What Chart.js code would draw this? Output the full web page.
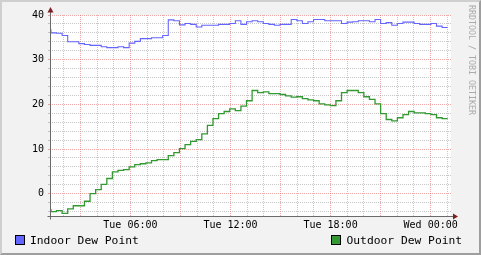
<!DOCTYPE html>
<html><head><meta charset="utf-8">
<script src="https://cdn.jsdelivr.net/npm/chart.js@4"></script>
<style>
html,body{margin:0;padding:0;background:#f2f2f2;}
#wrap{position:relative;width:481px;height:255px;overflow:hidden;background:#f2f2f2;}
#frame{position:absolute;left:0;top:0;width:481px;height:255px;box-sizing:border-box;border-top:2px solid #cfcfcf;border-left:2px solid #cfcfcf;border-right:2px solid #9e9e9e;border-bottom:2px solid #9e9e9e;pointer-events:none;}
canvas{position:absolute;left:0;top:0;}
.lg{position:absolute;font-family:"DejaVu Sans Mono",monospace;font-size:11.3px;line-height:12px;color:#000;white-space:nowrap;}
.box{position:absolute;width:8px;height:8px;border:1px solid #000;}
#wm{position:absolute;left:467px;top:5px;writing-mode:vertical-rl;font-family:"DejaVu Sans Mono",monospace;font-size:8.3px;line-height:10px;color:#aaa;white-space:nowrap;}
</style></head>
<body>
<div id="wrap">
<canvas id="c" width="481" height="255"></canvas>
<div class="box" style="left:15px;top:235px;background:#6464ff;"></div>
<div class="lg" style="left:30px;top:234.5px;">Indoor Dew Point</div>
<div class="box" style="left:331px;top:235px;background:#339933;"></div>
<div class="lg" style="left:346.5px;top:234.5px;">Outdoor Dew Point</div>
<div id="wm">RRDTOOL / TOBI OETIKER</div>
<div id="frame"></div>
</div>
<script>
// time of the first sample (hours after Tue 00:00) and sample spacing (hours)
const startHour = 0.901;
const stepHours = 0.335;

const seriesNames = ['Indoor Dew Point', 'Outdoor Dew Point'];

const indoor = [
 36.7, 36.0, 35.9, 35.4, 34.0, 34.0, 33.6, 33.4, 33.2, 33.2,
 32.9, 32.7, 32.7, 32.9, 32.7, 33.7, 34.1, 34.7, 34.7, 34.9,
 34.9, 35.4, 38.9, 38.7, 37.8, 38.1, 37.9, 37.3, 37.7, 37.7,
 37.7, 37.9, 37.9, 38.1, 38.7, 37.9, 38.5, 38.7, 38.5, 38.1,
 37.9, 37.7, 37.9, 37.9, 39.0, 38.7, 38.1, 38.5, 39.0, 39.0,
 38.7, 38.7, 38.7, 38.1, 38.4, 38.5, 38.7, 38.7, 38.5, 39.0,
 38.1, 38.3, 37.7, 38.1, 38.4, 38.4, 38.1, 37.9, 37.9, 38.1,
 37.5, 37.2
];

const outdoor = [
 -3.6, -4.0, -3.8, -4.4, -3.4, -2.7, -2.7, -1.7, 0.0, 0.9,
 2.1, 3.4, 4.9, 5.2, 5.4, 6.0, 6.5, 6.7, 6.9, 7.4,
 7.6, 7.6, 8.5, 9.2, 10.1, 11.0, 11.7, 12.1, 13.4, 15.3,
 16.8, 17.9, 18.4, 19.0, 18.6, 19.6, 20.8, 23.1, 22.6, 22.8,
 22.4, 22.4, 22.2, 21.9, 21.6, 21.7, 21.3, 21.0, 20.8, 20.1,
 19.9, 19.7, 20.8, 22.6, 23.1, 23.1, 22.6, 21.7, 21.1, 20.1,
 17.9, 16.6, 16.3, 17.0, 17.7, 18.4, 18.1, 18.1, 17.9, 17.7,
 17.0, 16.8
];

const yTickValues = [-4,-2,0,2,4,6,8,10,12,14,16,18,20,22,24,26,28,30,32,34,36,38,40];
const xGridHours = [2,3,4,5,6,7,8,9,10,11,12,13,14,15,16,17,18,19,20,21,22,23,24,25];
const xLabelHours = [6,12,18,24];
const xLabelTexts = ['Tue 06:00','Tue 12:00','Tue 18:00','Wed 00:00'];

const FONT = 'DejaVu Sans Mono';
const MINOR = 'rgba(143,143,143,0.5)';
const MAJOR = 'rgba(222,79,79,0.5)';
const AXIS = '#6a6a6a';
const ARROW = '#801f1f';

function isMajorY(v){ return Math.abs(v % 10) < 1e-6; }
function isMajorX(v){ return Math.abs(v % 3) < 1e-6; }

function toPoints(vals){
  const pts = vals.map((v,i)=>({x:startHour+i*stepHours, y:v}));
  pts.push({x:startHour+vals.length*stepHours, y:vals[vals.length-1]});
  return pts;
}

const rrdPlugin = {
  id:'rrd',
  beforeDraw(chart){
    const {ctx, chartArea:a} = chart;
    ctx.save();
    ctx.fillStyle = '#ffffff';
    ctx.fillRect(a.left, a.top, a.right-a.left, a.bottom-a.top);
    ctx.restore();
  },
  afterDraw(chart){
    const {ctx, chartArea:a} = chart;
    ctx.save();
    ctx.strokeStyle = AXIS; ctx.lineWidth = 1;
    const ax = Math.round(a.left) + 0.5;
    const ay = Math.round(a.bottom) + 0.5;
    ctx.beginPath();
    ctx.moveTo(ax, ay + 3); ctx.lineTo(ax, a.top - 6);
    ctx.moveTo(ax - 3, ay); ctx.lineTo(a.right + 4, ay);
    ctx.stroke();
    ctx.fillStyle = ARROW;
    ctx.beginPath();
    ctx.moveTo(ax - 3, a.top - 2.5); ctx.lineTo(ax + 3, a.top - 2.5); ctx.lineTo(ax, a.top - 8);
    ctx.closePath(); ctx.fill();
    ctx.beginPath();
    ctx.moveTo(a.right + 2, ay - 3); ctx.lineTo(a.right + 2, ay + 3); ctx.lineTo(a.right + 7, ay);
    ctx.closePath(); ctx.fill();
    ctx.restore();
  }
};

new Chart(document.getElementById('c'), {
  type:'line',
  data:{datasets:[
    {label:seriesNames[0], data:toPoints(indoor), borderColor:'#6464ff', borderWidth:1.1, stepped:true, pointRadius:0, fill:false},
    {label:seriesNames[1], data:toPoints(outdoor), borderColor:'#339933', borderWidth:1.3, stepped:true, pointRadius:0, fill:false}
  ]},
  options:{
    responsive:false, animation:false, devicePixelRatio:1,
    layout:{padding:{left:0,right:30,top:15,bottom:19}},
    plugins:{legend:{display:false}, tooltip:{enabled:false}},
    scales:{
      x:{
        type:'linear', min:1.18, max:25.22,
        afterBuildTicks:s=>{ s.ticks = xGridHours.map(v=>({value:v})); },
        afterFit:s=>{ s.height = 20; },
        grid:{color:c=>(c.tick && isMajorX(c.tick.value)) ? MAJOR : MINOR, drawTicks:false, lineWidth:1},
        border:{display:false, dash:[1,1]},
        ticks:{autoSkip:false, maxRotation:0, minRotation:0, padding:3, color:'#000', font:{family:FONT, size:10},
          callback:v=>{ const i = xLabelHours.indexOf(v); return i>=0 ? xLabelTexts[i] : ''; }}
      },
      y:{
        type:'linear', min:-5, max:40,
        afterBuildTicks:s=>{ s.ticks = yTickValues.map(v=>({value:v})); },
        afterFit:s=>{ s.width = 50; },
        grid:{color:c=>(c.tick && isMajorY(c.tick.value)) ? MAJOR : MINOR, drawTicks:true, tickLength:2, lineWidth:1},
        border:{display:false, dash:[1,1]},
        ticks:{autoSkip:false, padding:4, color:'#000', font:{family:FONT, size:10},
          callback:v=> isMajorY(v) ? String(v) : ''}
      }
    }
  },
  plugins:[rrdPlugin]
});
</script>
</body></html>
